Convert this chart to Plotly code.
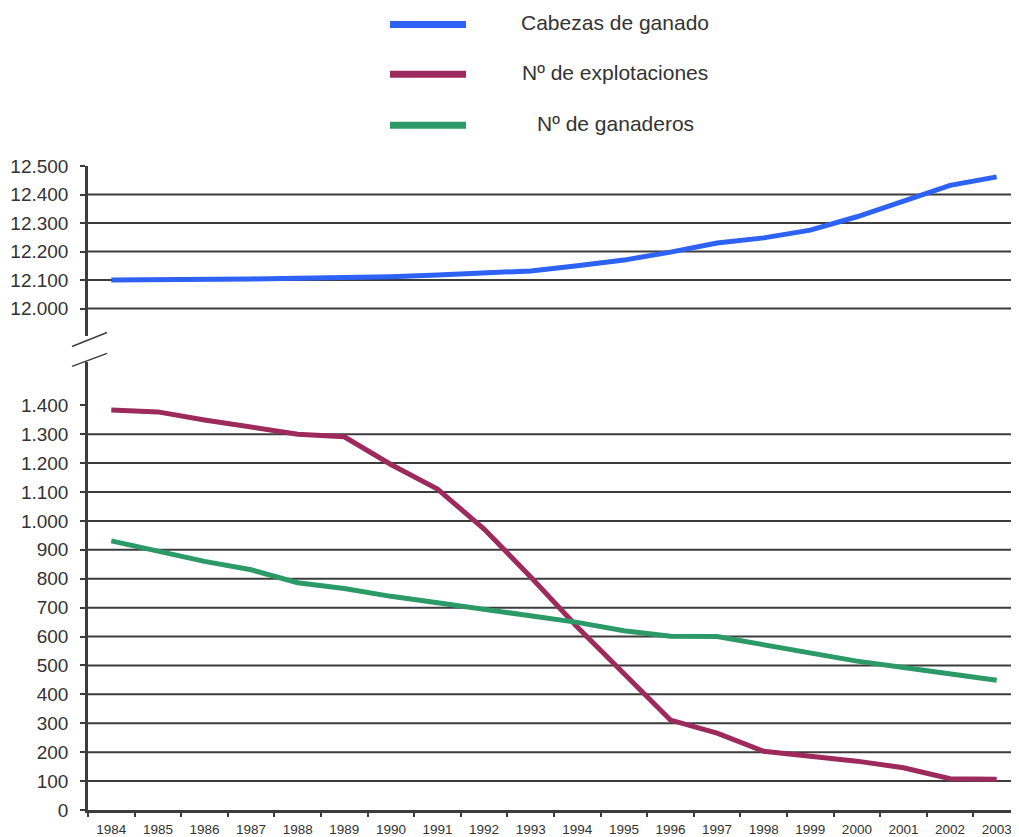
import plotly.graph_objects as go

# ---------------- data ----------------
years = ["1984", "1985", "1986", "1987", "1988", "1989", "1990", "1991", "1992", "1993",
         "1994", "1995", "1996", "1997", "1998", "1999", "2000", "2001", "2002", "2003"]
cabezas = [12100, 12100, 12101, 12104, 12106, 12108, 12112, 12118, 12124, 12132,
           12150, 12170, 12198, 12230, 12248, 12275, 12322, 12375, 12432, 12462]
explotaciones = [1384, 1377, 1349, 1323, 1300, 1291, 1195, 1110, 972, 806,
                 633, 472, 311, 266, 203, 186, 169, 146, 108, 106]
ganaderos = [931, 894, 860, 831, 786, 766, 739, 717, 694, 674,
             649, 620, 601, 600, 572, 540, 515, 493, 472, 449]

series_names = ["Cabezas de ganado", "Nº de explotaciones", "Nº de ganaderos"]
series_colors = ["#2d62f5", "#9c2a5c", "#2c9a68"]

upper_ticks = [12000, 12100, 12200, 12300, 12400, 12500]
upper_grid = [12000, 12100, 12200, 12300, 12400]
lower_ticks = [0, 100, 200, 300, 400, 500, 600, 700, 800, 900, 1000, 1100, 1200, 1300, 1400]
lower_grid = [100, 200, 300, 400, 500, 600, 700, 800, 900, 1000, 1100, 1200, 1300]

# ---------------- layout geometry ----------------
OFF = 8  # page body margin in the browser
W, H = 1019 - OFF, 837 - OFF
ML, MR, MT = 88 - OFF, 0, 166 - OFF
BOTTOM = 812 - OFF
MB = H - BOTTOM
PW, PH = W - ML - MR, H - MT - MB
band = 47.0


def py(ref_pix):  # reference pixel y -> paper y
    return (BOTTOM - (ref_pix - OFF)) / PH


def px(ref_pix):  # reference pixel x -> paper x
    return ((ref_pix - OFF) - ML) / PW


FONT = "Liberation Sans, Arial, sans-serif"
TXT = "#333333"
AX = "#3c3c3c"

fig = go.Figure()
fig.add_trace(go.Scatter(x=years, y=cabezas, mode="lines", name=series_names[0],
                         line=dict(color=series_colors[0], width=5), xaxis="x", yaxis="y2",
                         showlegend=False))
fig.add_trace(go.Scatter(x=years, y=explotaciones, mode="lines", name=series_names[1],
                         line=dict(color=series_colors[1], width=5), xaxis="x", yaxis="y",
                         showlegend=False))
fig.add_trace(go.Scatter(x=years, y=ganaderos, mode="lines", name=series_names[2],
                         line=dict(color=series_colors[2], width=5), xaxis="x", yaxis="y",
                         showlegend=False))

shapes = []
for v in upper_grid:
    shapes.append(dict(type="line", xref="x domain", yref="y2", x0=0, x1=1, y0=v, y1=v,
                       line=dict(color=AX, width=2), layer="below"))
for v in lower_grid:
    shapes.append(dict(type="line", xref="x domain", yref="y", x0=0, x1=1, y0=v, y1=v,
                       line=dict(color=AX, width=2), layer="below"))
# axis-break marks
for (y0, y1) in [(347, 333), (367, 354)]:
    shapes.append(dict(type="line", xref="paper", yref="paper",
                       x0=px(72), x1=px(107), y0=py(y0), y1=py(y1),
                       line=dict(color=AX, width=1.5)))
# manual legend swatches
leg_y = [24, 74, 125]
annotations = []
for name, col, yy in zip(series_names, series_colors, leg_y):
    shapes.append(dict(type="line", xref="paper", yref="paper",
                       x0=px(390), x1=px(466), y0=py(yy), y1=py(yy),
                       line=dict(color=col, width=7)))
    annotations.append(dict(text=name, xref="paper", yref="paper", x=px(615), y=py(yy - 2),
                            xanchor="center", yanchor="middle", showarrow=False,
                            font=dict(family=FONT, size=21, color=TXT)))

upper_bottom_px = 337
lower_top_px = 362.5
upper_range_lo = 12000 - (upper_bottom_px - 309) / 0.2862
lower_range_hi = (812 - lower_top_px) / 0.29

fig.update_layout(
    width=W, height=H,
    margin=dict(l=ML, r=MR, t=MT, b=MB, pad=0),
    paper_bgcolor="white", plot_bgcolor="white",
    separators=",.",
    font=dict(family=FONT, color=TXT),
    showlegend=False,
    xaxis=dict(
        type="category", range=[-0.5, -0.5 + (PW + OFF) / band],
        tickson="boundaries", ticks="outside", ticklen=4, tickwidth=1.5, tickcolor=AX,
        showline=True, linecolor=AX, linewidth=2.5, showgrid=False, zeroline=False,
        tickfont=dict(size=13.5, color=TXT), anchor="y", ticklabelstandoff=5,
    ),
    yaxis=dict(
        domain=[0, py(lower_top_px)], range=[0, lower_range_hi],
        tickvals=lower_ticks, tickformat=",d", ticks="outside", ticklen=5, tickwidth=1.5,
        tickcolor=AX, showline=True, linecolor=AX, linewidth=2.5, showgrid=False,
        zeroline=False, tickfont=dict(size=19, color=TXT), anchor="x", ticklabelstandoff=8,
    ),
    yaxis2=dict(
        domain=[py(upper_bottom_px), 1], range=[upper_range_lo, 12500],
        tickvals=upper_ticks, tickformat=",d", ticks="outside", ticklen=5, tickwidth=1.5,
        tickcolor=AX, showline=True, linecolor=AX, linewidth=2.5, showgrid=False,
        zeroline=False, tickfont=dict(size=19, color=TXT), anchor="x", ticklabelstandoff=8,
    ),
    shapes=shapes,
    annotations=annotations,
)

fig.write_html("out.html")
